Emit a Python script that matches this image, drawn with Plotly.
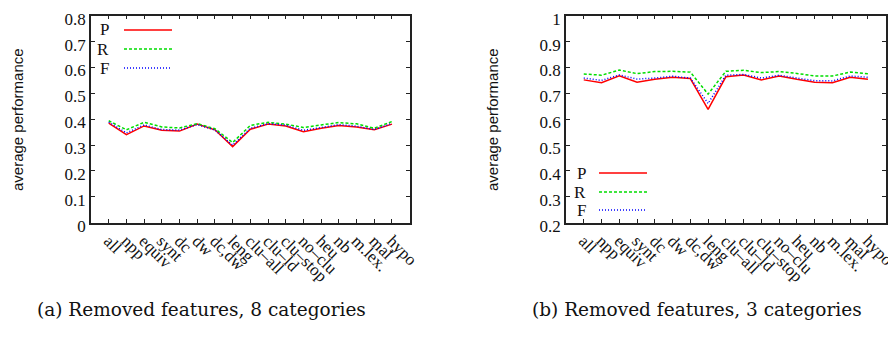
import plotly.graph_objects as go

categories = ["all", "npp", "equiv", "synt", "dc", "dw", "dc,dw", "leng",
              "clu\u2013all", "clu\u2013ld", "clu\u2013stop", "no\u2013clu",
              "heu", "nb", "m.lex.", "mal", "hypo"]

# (a) 8 categories
p8 = [0.385, 0.340, 0.374, 0.357, 0.354, 0.381, 0.359, 0.294, 0.361,
      0.381, 0.374, 0.352, 0.365, 0.376, 0.370, 0.359, 0.381]
r8 = [0.394, 0.359, 0.388, 0.370, 0.366, 0.383, 0.363, 0.310, 0.376,
      0.388, 0.381, 0.368, 0.378, 0.387, 0.382, 0.365, 0.391]
f8 = [0.389, 0.347, 0.378, 0.360, 0.358, 0.379, 0.358, 0.300, 0.365,
      0.383, 0.377, 0.357, 0.368, 0.379, 0.373, 0.360, 0.384]

# (b) 3 categories
p3 = [0.752, 0.741, 0.768, 0.743, 0.754, 0.762, 0.757, 0.638, 0.764,
      0.771, 0.752, 0.767, 0.754, 0.743, 0.741, 0.762, 0.754]
r3 = [0.775, 0.770, 0.790, 0.776, 0.784, 0.785, 0.782, 0.697, 0.785,
      0.789, 0.780, 0.784, 0.777, 0.767, 0.767, 0.782, 0.776]
f3 = [0.759, 0.750, 0.771, 0.755, 0.759, 0.766, 0.759, 0.661, 0.770,
      0.773, 0.759, 0.770, 0.759, 0.749, 0.748, 0.767, 0.762]

series_names = ["P", "R", "F"]
y_ticks_a = [0, 0.1, 0.2, 0.3, 0.4, 0.5, 0.6, 0.7, 0.8]
y_ticks_b = [0.2, 0.3, 0.4, 0.5, 0.6, 0.7, 0.8, 0.9, 1]
captions = ["(a) Removed features, 8 categories", "(b) Removed features, 3 categories"]

# page body has an 8px default margin; figure pixel coords are shifted by it
OFF = 8
W, H = 896 - OFF, 337 - OFF


def px(x):
    return (x - OFF) / W


def py(y):
    return 1 - (y - OFF) / H


colors = ["#ff0000", "#00dd00", "#0000ff"]
dashes = ["solid", "3px,2px", "1px,2px"]
serif = "Liberation Serif, DejaVu Serif, serif"
wide_serif = "DejaVu Serif, Liberation Serif, serif"
sans = "Liberation Sans, DejaVu Sans, sans-serif"

x_idx = list(range(len(categories)))

fig = go.Figure()
for k, ys in enumerate([p8, r8, f8]):
    fig.add_trace(go.Scatter(x=x_idx, y=ys, mode="lines", name=series_names[k],
                             line=dict(color=colors[k], width=1.5, dash=dashes[k]),
                             xaxis="x", yaxis="y", showlegend=False))
for k, ys in enumerate([p3, r3, f3]):
    fig.add_trace(go.Scatter(x=x_idx, y=ys, mode="lines", name=series_names[k],
                             line=dict(color=colors[k], width=1.5, dash=dashes[k]),
                             xaxis="x2", yaxis="y2", showlegend=False))

ydom = [py(222.7), py(15.7)]
xdom1 = [px(91), px(409.7)]
xdom2 = [px(566), px(885.7)]

axis_common = dict(showgrid=False, zeroline=False, showline=True, linecolor="#222",
                   linewidth=1.5, mirror="ticks", ticks="inside", ticklen=4,
                   tickwidth=1.2, tickcolor="#222", automargin=False,
                   ticklabeloverflow="allow")

xcommon = dict(axis_common, tickmode="array", tickvals=x_idx, ticktext=categories,
               range=[-1, 17], tickangle=45,
               tickfont=dict(family=serif, size=17, color="#111"))

ycommon = dict(axis_common, ticklabelshift=3,
               tickfont=dict(family=serif, size=17, color="#111"))

fig.update_layout(
    width=W, height=H,
    margin=dict(l=0, r=0, t=0, b=0, autoexpand=False),
    paper_bgcolor="white", plot_bgcolor="white",
    showlegend=False,
    xaxis=dict(xcommon, domain=xdom1, anchor="y"),
    yaxis=dict(ycommon, domain=ydom, range=[0, 0.8], tickvals=y_ticks_a,
               ticktext=[f"{v:g}" for v in y_ticks_a], anchor="x"),
    xaxis2=dict(xcommon, domain=xdom2, anchor="y2"),
    yaxis2=dict(ycommon, domain=ydom, range=[0.2, 1], tickvals=y_ticks_b,
                ticktext=[f"{v:g}" for v in y_ticks_b], anchor="x2"),
)

annotations = []
shapes = []
# y axis titles
for xpos in [17, 492]:
    annotations.append(dict(text="average performance", x=px(xpos), y=py(120),
                            xref="paper", yref="paper", showarrow=False, textangle=-90,
                            font=dict(family=sans, size=15, color="#111"),
                            xanchor="center", yanchor="middle"))
# captions
for text, xc in zip(captions, [201, 697]):
    annotations.append(dict(text=text, x=px(xc), y=py(309), xref="paper", yref="paper",
                            showarrow=False, font=dict(family=wide_serif, size=18.5, color="#111"),
                            xanchor="center", yanchor="middle"))

# legends (gnuplot style: label left of sample line)
legend_specs = [
    (111, 124, 172, [30, 49, 68]),
    (588, 599, 647, [173, 192, 210]),
]
for (lx, x0, x1, ys) in legend_specs:
    for k, yy in enumerate(ys):
        annotations.append(dict(text=series_names[k], x=px(lx), y=py(yy),
                                xref="paper", yref="paper", showarrow=False,
                                xanchor="right", yanchor="middle",
                                font=dict(family=serif, size=17, color="#111")))
        shapes.append(dict(type="line", xref="paper", yref="paper",
                           x0=px(x0), x1=px(x1), y0=py(yy), y1=py(yy),
                           line=dict(color=colors[k], width=1.5, dash=dashes[k])))

fig.update_layout(annotations=annotations, shapes=shapes)
fig.write_html("out.html")
